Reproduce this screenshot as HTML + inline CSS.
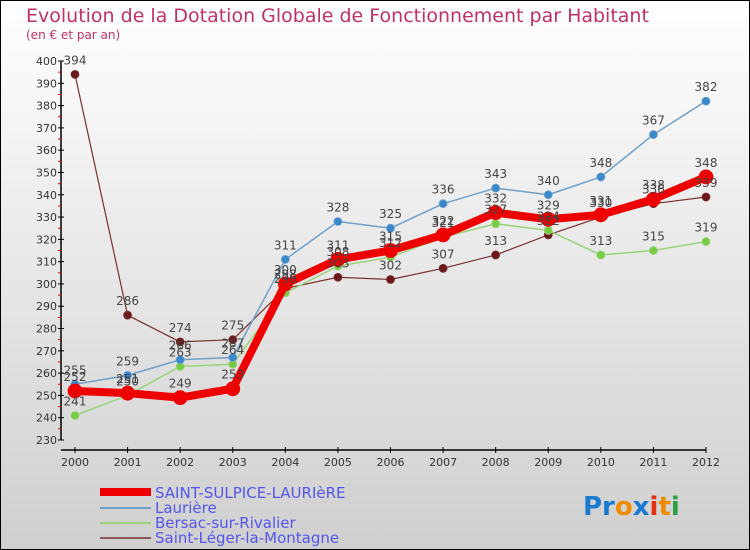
<!DOCTYPE html>
<html><head><meta charset="utf-8"><style>
html,body{margin:0;padding:0}
body{width:750px;height:550px;overflow:hidden}
svg{display:block;font-family:"DejaVu Sans","Liberation Sans",sans-serif}
</style></head><body>
<svg id="chart" width="750" height="550" viewBox="0 0 750 550">
<defs><linearGradient id="bg" x1="0" y1="0" x2="0" y2="1"><stop offset="0" stop-color="#ffffff"/><stop offset="1" stop-color="#cfcfcf"/></linearGradient></defs>
<rect x="0.5" y="0.5" width="749" height="549" fill="url(#bg)" stroke="#000"/>
<text x="26" y="22" font-size="19" fill="#c0306a">Evolution de la Dotation Globale de Fonctionnement par Habitant</text>
<text x="26" y="39" font-size="12" fill="#c0306a">(en € et par an)</text>
<g id="axes"></g>
<g id="series"></g>
<g id="labels"></g>
<g>
<line x1="100" y1="492" x2="151" y2="492" stroke="#ee0000" stroke-width="8"/>
<text x="155" y="498" font-size="15" fill="#5555ee">SAINT-SULPICE-LAURIèRE</text>
<line x1="100" y1="508" x2="151" y2="508" stroke="#6fa0c8" stroke-width="2"/>
<text x="155" y="513" font-size="15" fill="#5555ee">Laurière</text>
<line x1="100" y1="523" x2="151" y2="523" stroke="#9bd37a" stroke-width="2"/>
<text x="155" y="528" font-size="15" fill="#5555ee">Bersac-sur-Rivalier</text>
<line x1="100" y1="538" x2="151" y2="538" stroke="#8a5a5a" stroke-width="2"/>
<text x="155" y="543" font-size="15" fill="#5555ee">Saint-Léger-la-Montagne</text>
</g>
<text x="583" y="515" font-size="26" font-weight="bold"><tspan fill="#1a7ad0">Pr</tspan><tspan fill="#f08a00">o</tspan><tspan fill="#1a7ad0">x</tspan><tspan fill="#e03010">i</tspan><tspan fill="#f08a00">t</tspan><tspan fill="#2aa040">i</tspan></text>
</svg>
<script>
const years = [2000,2001,2002,2003,2004,2005,2006,2007,2008,2009,2010,2011,2012];
const yTicks = [230,240,250,260,270,280,290,300,310,320,330,340,350,360,370,380,390,400];
const saintSulpice = [252,251,249,253,300,311,315,322,332,329,331,338,348];
const lauriere = [255,259,266,267,311,328,325,336,343,340,348,367,382];
const bersac = [241,250,263,264,296,308,312,321,327,324,313,315,319];
const saintLeger = [394,286,274,275,298,303,302,307,313,322,330,336,339];

const NS = "http://www.w3.org/2000/svg";
const X0 = 75, X1 = 706, Y0 = 440, Y1 = 61, VMIN = 230, VMAX = 400;
function xScale(i){ return X0 + (X1 - X0) * i / (years.length - 1); }
function yScale(v){ return Y0 - (v - VMIN) * (Y0 - Y1) / (VMAX - VMIN); }
function mk(tag, attrs, parent){ const e = document.createElementNS(NS, tag); for (const k in attrs) e.setAttribute(k, attrs[k]); parent.appendChild(e); return e; }

const axes = document.getElementById('axes');
let yl = mk('line', {x1:61,y1:Y1,x2:61,y2:Y0,stroke:'#000','stroke-width':1.5}, axes);


let xl = mk('line', {x1:61,y1:450,x2:X1,y2:450,stroke:'#000','stroke-width':1.5}, axes);


yTicks.forEach((v, k) => {
  const y = yScale(v);
  mk('line', {x1:58,y1:y,x2:64,y2:y,stroke:'#000'}, axes);
  if (k < yTicks.length - 1) mk('line', {x1:58,y1:y - (Y0 - Y1) / 34,x2:61,y2:y - (Y0 - Y1) / 34,stroke:'#e00'}, axes);
  const t = mk('text', {x:57,y:y + 4,'font-size':11,'text-anchor':'end',fill:'#333'}, axes);
  t.textContent = v;
  
  
});
years.forEach((yr, i) => {
  const x = xScale(i);
  mk('line', {x1:x,y1:447,x2:x,y2:453,stroke:'#000'}, axes);
  const t = mk('text', {x:x,y:466,'font-size':11,'text-anchor':'middle',fill:'#333'}, axes);
  t.textContent = yr;
  
  
});

const seriesG = document.getElementById('series');
const labelsG = document.getElementById('labels');
function drawSeries(vals, color, dot, width, r, name){
  const pts = vals.map((v, i) => xScale(i) + ',' + yScale(v)).join(' ');
  const pl = mk('polyline', {points:pts,fill:'none',stroke:color,'stroke-width':width,'stroke-linejoin':'round'}, seriesG);
  
  
  vals.forEach((v, i) => {
    const c = mk('circle', {cx:xScale(i),cy:yScale(v),r:r,fill:dot,stroke:color,'stroke-width':0.8}, seriesG);
    
    
    const t = mk('text', {x:xScale(i),y:yScale(v) - 10,'font-size':12,'text-anchor':'middle',fill:'#444'}, labelsG);
    t.textContent = v;
    
    
  });
}
drawSeries(saintLeger, '#7a3030', '#6a1a1a', 1.2, 4, 'saint-leger');
drawSeries(bersac, '#9bd37a', '#77cc44', 1.5, 4, 'bersac');
drawSeries(lauriere, '#6fa0c8', '#3a88cc', 1.5, 4, 'lauriere');
drawSeries(saintSulpice, '#ee0000', '#ee0000', 8, 7, 'saint-sulpice');
</script>
</body></html>
